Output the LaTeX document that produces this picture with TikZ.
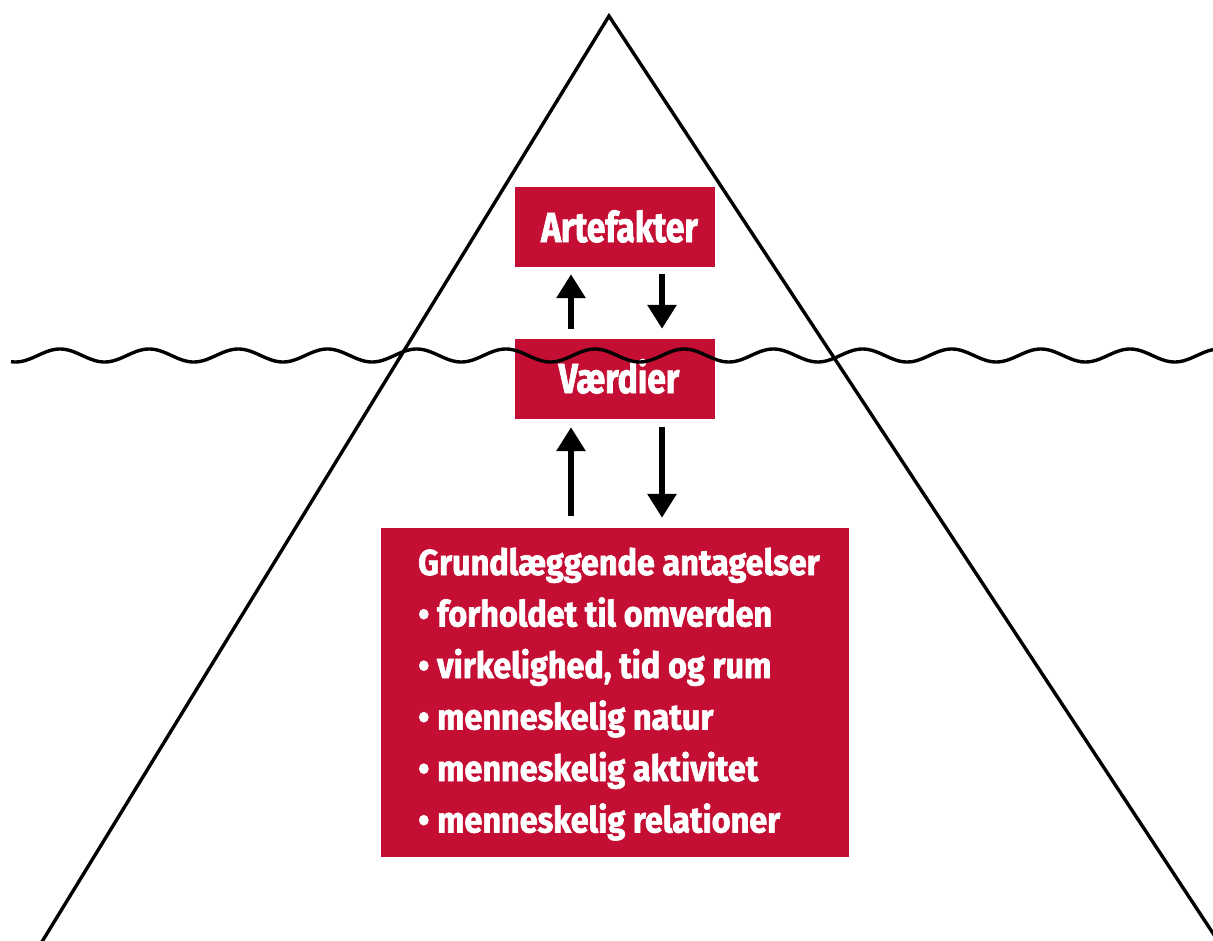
\documentclass[tikz,border=0pt]{standalone}
\usepackage{fontspec}
\newfontfamily\topfont[FakeStretch=0.8, FakeBold=1.8]{Fira Sans}
\newfontfamily\listfont[FakeStretch=0.9, FakeBold=1.8]{Fira Sans}
\usetikzlibrary{arrows.meta}
\definecolor{boxred}{RGB}{197,14,51}
\tikzset{
  redbox/.style={fill=boxred, draw=none, inner sep=0pt},
  boxtext/.style={text=white, font=\topfont\bfseries\fontsize{42}{46}\selectfont, inner sep=0pt, anchor=base},
  listtext/.style={text=white, font=\listfont\bfseries\fontsize{36}{40}\selectfont, inner sep=0pt, anchor=base west},
  arr/.style={line width=6pt, -{Triangle[width=28pt,length=24pt]}},
  outline/.style={line width=3.4pt, black, line join=miter},
}
\begin{document}
\begin{tikzpicture}[x=1pt,y=-1pt]
\useasboundingbox (0,0) rectangle (1213,940);
% boxes
\node[redbox, minimum width=200pt, minimum height=80pt] (art) at (615,227) {};
\node[boxtext] (arttxt) at (619.5,242) {Artefakter};
\node[redbox, minimum width=200pt, minimum height=80pt] (val) at (615,379) {};
\node[boxtext] (valtxt) at (619,393) {Værdier};
\node[redbox, minimum width=468pt, minimum height=329pt] (grund) at (615,692.5) {};
\node[listtext] (l0) at (418,575) {Grundlæggende antagelser};
\node[listtext] (l1) at (418,626.5) {• forholdet til omverden};
\node[listtext] (l2) at (418,678) {• virkelighed, tid og rum};
\node[listtext] (l3) at (418,729.5) {• menneskelig natur};
\node[listtext] (l4) at (418,781) {• menneskelig aktivitet};
\node[listtext] (l5) at (418,832.5) {• menneskelig relationer};
% arrows
\coordinate (upx) at (571,0);
\coordinate (downx) at (662,0);
\draw[arr, shorten <=10pt, shorten >=7pt] (val.north -| upx) -- (art.south -| upx);
\draw[arr, shorten <=7pt, shorten >=10pt] (art.south -| downx) -- (val.north -| downx);
\draw[arr, shorten <=12pt, shorten >=8pt] (grund.north -| upx) -- (val.south -| upx);
\draw[arr, shorten <=8pt, shorten >=10pt] (val.south -| downx) -- (grund.north -| downx);
% iceberg and water
\begin{scope}
\clip (0,0) rectangle (1213,940);
\coordinate (apex) at (609,16);
\coordinate (bl) at (36.6,950.5);
\coordinate (br) at (1224,950);
\draw[outline] (bl) -- (apex) -- (br);
\draw[outline, line cap=butt] plot[domain=11:1213, samples=500, smooth] (\x, {355.5-6.5*cos(4.0372*(\x-60))});
\end{scope}
\end{tikzpicture}
\end{document}
